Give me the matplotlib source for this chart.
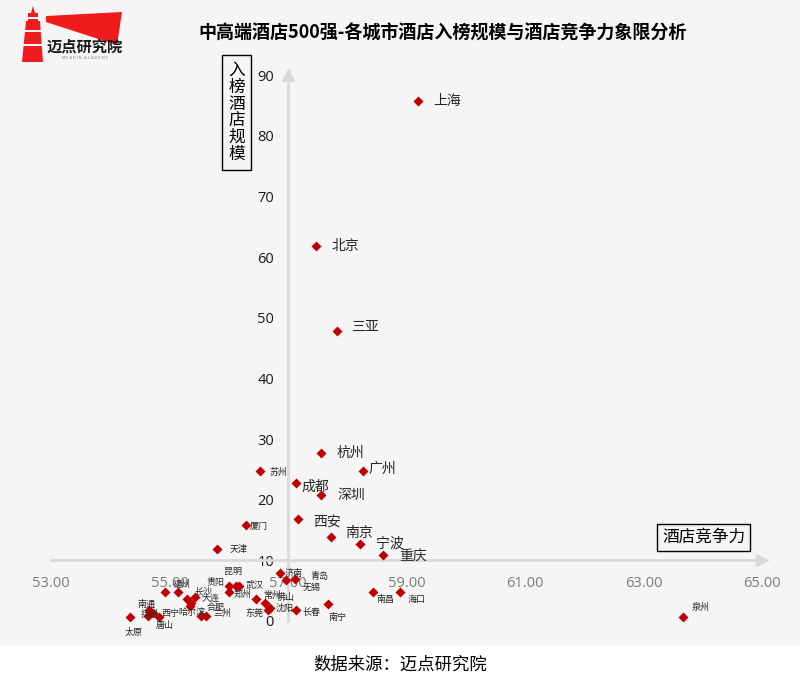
import matplotlib
matplotlib.use('Agg')
import matplotlib.pyplot as plt
from matplotlib.patches import Polygon, Rectangle
from matplotlib.transforms import Affine2D
import numpy as np

plt.rcParams['font.family'] = ['Noto Sans CJK SC', 'DejaVu Sans']

# ---------------- data ----------------
cities = ['上海', '北京', '三亚', '杭州', '广州', '苏州', '成都', '深圳', '西安', '厦门',
          '南京', '宁波', '天津', '重庆',
          '济南', '青岛', '无锡', '贵阳', '昆明', '武汉', '郑州', '常州', '佛山', '东莞', '沈阳',
          '长春', '南宁', '南昌', '海口', '泉州',
          '太原', '南通', '扬州', '西宁', '唐山', '福州', '', '长沙', '大连', '哈尔滨', '',
          '合肥', '兰州']
competitiveness = [59.19, 57.47, 57.83, 57.55, 58.27, 56.53, 57.13, 57.55, 57.17, 56.29,
                   57.73, 58.22, 55.81, 58.60,
                   56.86, 56.97, 57.12, 56.01, 56.12, 56.18, 56.01, 56.46, 56.61, 56.67, 56.70,
                   57.14, 57.68, 58.43, 58.89, 63.67,
                   54.33, 54.65, 54.64, 54.72, 54.83, 54.92, 55.15, 55.29, 55.43, 55.37, 55.35,
                   55.54, 55.62]
scale = [85.7, 61.8, 47.8, 27.7, 24.8, 24.8, 22.8, 20.7, 16.8, 15.8,
         13.8, 12.7, 11.8, 10.8,
         7.9, 6.8, 6.9, 5.8, 5.8, 5.8, 4.7, 3.7, 2.9, 1.8, 2.1,
         1.8, 2.8, 4.7, 4.7, 0.7,
         0.7, 1.8, 0.8, 1.3, 0.7, 4.7, 4.7, 3.7, 4.0, 2.9, 2.5,
         0.8, 0.8]

x_ticks = [53, 55, 57, 59, 61, 63, 65]
y_ticks = [0, 10, 20, 30, 40, 50, 60, 70, 80, 90]
x_cross = 57
y_cross = 10

title = '中高端酒店500强-各城市酒店入榜规模与酒店竞争力象限分析'
x_title = '酒店竞争力'
y_title = '入榜酒店规模'
source = '数据来源：迈点研究院'

# ---------------- label styling (pixel offsets: dx right, dy down) ----------------
big_labels = {'上海', '北京', '三亚', '杭州', '广州', '深圳', '成都', '西安', '南京', '宁波', '重庆'}
offsets = {
    '上海': (15, 0), '北京': (16, 0), '三亚': (14, -4), '杭州': (16, 0), '广州': (5, -2),
    '苏州': (9, 2), '成都': (6, 4), '深圳': (17, 0), '西安': (15, 3), '厦门': (4, 1),
    '南京': (14, -4), '宁波': (16, 0), '天津': (12, 0), '重庆': (16, 1),
    '太原': (-5, 16), '南通': (-11, -6), '扬州': (-8, -2), '西宁': (9, 0), '唐山': (-4, 9),
    '福州': (8, -8), '长沙': (8, -7), '大连': (7, 2), '哈尔滨': (-13, 9), '合肥': (5, -9),
    '兰州': (7, -3), '贵阳': (-23, -3), '昆明': (-12, -14), '武汉': (6, 0), '郑州': (4, 2),
    '常州': (7, -3), '佛山': (12, -6), '沈阳': (5, 0), '东莞': (-23, 3), '济南': (5, 0),
    '青岛': (24, -3), '无锡': (7, 8), '长春': (6, 2), '南宁': (0, 13), '南昌': (4, 7),
    '海口': (8, 7), '泉州': (8, -9),
}

W, H = 800, 683
fig = plt.figure(figsize=(W / 100, H / 100), dpi=100)
fig.patch.set_facecolor('#f5f5f5')
pix = Affine2D().scale(1 / W, -1 / H).translate(0, 1) + fig.transFigure

# white footer strip
fig.patches.append(Rectangle((0, 645), W, H - 645, transform=pix, facecolor='white',
                             edgecolor='none', zorder=0))

ax = fig.add_axes([51 / W, 1 - 621 / H, (762 - 51) / W, (621 - 75) / H])
ax.set_facecolor('none')
ax.set_xlim(53, 65)
ax.set_ylim(0, 90)

axis_col = '#d9d9d9'
for s in ['top', 'right']:
    ax.spines[s].set_visible(False)
ax.spines['left'].set_position(('data', x_cross))
ax.spines['bottom'].set_position(('data', y_cross))
for s in ['left', 'bottom']:
    ax.spines[s].set_color(axis_col)
    ax.spines[s].set_linewidth(2)
# arrow heads
ax.plot([65], [y_cross], marker='>', ms=9, color=axis_col, clip_on=False, zorder=3)
ax.plot([x_cross], [90], marker='^', ms=9, color=axis_col, clip_on=False, zorder=3)

ax.set_xticks(x_ticks)
ax.set_xticklabels([f'{v:.2f}' for v in x_ticks])
ax.set_yticks(y_ticks)
ax.set_yticklabels([str(v) for v in y_ticks])
ax.tick_params(axis='x', length=0, pad=11, labelsize=10.5, labelcolor='#7a7a7a')
ax.tick_params(axis='y', length=0, pad=10, labelsize=10.5, labelcolor='#1a1a1a')
for lab in ax.get_xticklabels() + ax.get_yticklabels():
    lab.set_family(['Open Sans', 'DejaVu Sans'])

ax.plot(competitiveness, scale, linestyle='none', marker='D', ms=5.5,
        color='#c00000', mec='none', zorder=4)

for name, xv, yv in zip(cities, competitiveness, scale):
    if not name:
        continue
    dx, dy = offsets.get(name, (6, 0))
    if name in big_labels:
        fs, col = 10, '#262626'
    else:
        fs, col = 6.5, '#262626'
    ax.annotate(name, (xv, yv), xytext=(dx, -dy), textcoords='offset pixels',
                ha='left', va='center', fontsize=fs, color=col, zorder=5)

# axis titles in boxes
fig.text(236.5 / W, 1 - 112.5 / H, '\n'.join(y_title), ha='center', va='center',
         fontsize=12, linespacing=0.98, color='black',
         bbox=dict(boxstyle='square,pad=0.4', facecolor='none', edgecolor='black', lw=1))
fig.text(703.5 / W, 1 - 537.5 / H, x_title, ha='center', va='center', fontsize=12,
         color='black',
         bbox=dict(boxstyle='square,pad=0.3', facecolor='none', edgecolor='black', lw=1))

# title and source
fig.text(443 / W, 1 - 33 / H, title, ha='center', va='center', fontsize=13,
         fontweight='bold', color='black')
fig.text(400 / W, 1 - 665 / H, source, ha='center', va='center', fontsize=12.5,
         color='black')

# logo
red = '#ee1c1c'
tower = [(33, 6), (35, 13), (38, 13), (38, 21), (40, 21), (43, 62), (22, 62),
         (26, 21), (28, 21), (28, 13), (31, 13)]
fig.patches.append(Polygon(tower, closed=True, transform=pix, facecolor=red,
                           edgecolor='none', zorder=2))
for yb in (17, 30, 44):
    fig.patches.append(Rectangle((20, yb), 25, 1.5, transform=pix, facecolor='#f5f5f5',
                                 edgecolor='none', zorder=3))
flag = [(46, 16), (122, 12), (117, 45), (46, 22)]
fig.patches.append(Polygon(flag, closed=True, transform=pix, facecolor=red,
                           edgecolor='none', zorder=2))
fig.text(85 / W, 1 - 47 / H, '迈点研究院', ha='center', va='center', fontsize=11,
         fontweight='bold', color='#1a1a1a', zorder=4)
fig.text(85 / W, 1 - 58 / H, 'M E A D I N   A C A D E M Y', ha='center', va='center',
         fontsize=3, color='#808080', zorder=4)

fig.savefig('out.png', dpi=100, facecolor=fig.get_facecolor())
